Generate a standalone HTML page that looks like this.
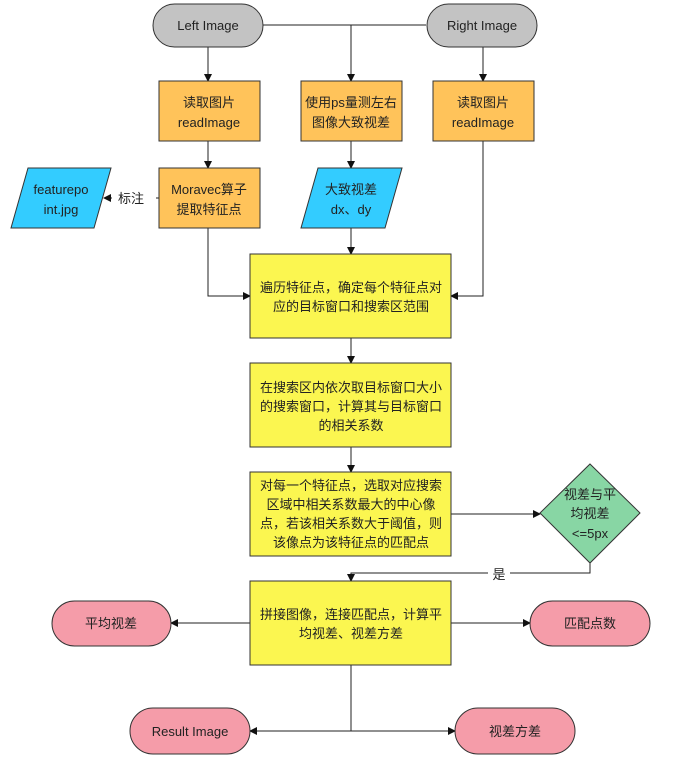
<!DOCTYPE html>
<html><head><meta charset="utf-8"><style>
html,body{margin:0;padding:0;background:#fff;}
svg{display:block;}
text{font-family:"Liberation Sans","Noto Sans CJK SC",sans-serif;font-size:13px;fill:#222;text-anchor:middle;}
</style></head><body>
<svg width="697" height="776" viewBox="0 0 697 776" xmlns="http://www.w3.org/2000/svg">
<defs><marker id="a" markerWidth="8" markerHeight="8" refX="7" refY="4" orient="auto" markerUnits="userSpaceOnUse"><path d="M0,0 L8,4 L0,8 z" fill="#111"/></marker></defs>
<g stroke="#222" stroke-width="1" fill="none">
<line x1="262" y1="25" x2="426" y2="25"/>
<line x1="208" y1="47" x2="208" y2="81" marker-end="url(#a)"/>
<line x1="351" y1="25" x2="351" y2="81" marker-end="url(#a)"/>
<line x1="483" y1="47" x2="483" y2="81" marker-end="url(#a)"/>
<line x1="208" y1="141" x2="208" y2="168" marker-end="url(#a)"/>
<line x1="351" y1="141" x2="351" y2="168" marker-end="url(#a)"/>
<line x1="159" y1="198" x2="104" y2="198" marker-end="url(#a)"/>
<polyline points="208,228 208,296 250,296" marker-end="url(#a)"/>
<line x1="351" y1="228" x2="351" y2="254" marker-end="url(#a)"/>
<polyline points="483,141 483,296 451,296" marker-end="url(#a)"/>
<line x1="351" y1="338" x2="351" y2="363" marker-end="url(#a)"/>
<line x1="351" y1="447" x2="351" y2="472" marker-end="url(#a)"/>
<line x1="451" y1="514" x2="540" y2="514" marker-end="url(#a)"/>
<polyline points="590,563 590,573 351,573 351,581" marker-end="url(#a)"/>
<line x1="250" y1="623" x2="171" y2="623" marker-end="url(#a)"/>
<line x1="451" y1="623" x2="530" y2="623" marker-end="url(#a)"/>
<line x1="351" y1="665" x2="351" y2="731"/>
<line x1="351" y1="731" x2="250" y2="731" marker-end="url(#a)"/>
<line x1="351" y1="731" x2="455" y2="731" marker-end="url(#a)"/>
</g>
<g stroke="#333" stroke-width="1">
<rect x="153" y="4" width="110" height="43" rx="21.5" fill="#c3c3c3"/>
<rect x="427" y="4" width="110" height="43" rx="21.5" fill="#c3c3c3"/>
<rect x="159" y="81" width="101" height="60" fill="#ffc35a"/>
<rect x="301" y="81" width="101" height="60" fill="#ffc35a"/>
<rect x="433" y="81" width="101" height="60" fill="#ffc35a"/>
<rect x="159" y="168" width="101" height="60" fill="#ffc35a"/>
<polygon points="28,168 111,168 94,228 11,228" fill="#33ccff"/>
<polygon points="318,168 402,168 385,228 301,228" fill="#33ccff"/>
<rect x="250" y="254" width="201" height="84" fill="#fbf650"/>
<rect x="250" y="363" width="201" height="84" fill="#fbf650"/>
<rect x="250" y="472" width="201" height="84" fill="#fbf650"/>
<polygon points="590,464 640,513 590,563 540,513" fill="#88d6a4"/>
<rect x="250" y="581" width="201" height="84" fill="#fbf650"/>
<rect x="52" y="601" width="119" height="45" rx="22.5" fill="#f59ca9"/>
<rect x="530" y="601" width="120" height="45" rx="22.5" fill="#f59ca9"/>
<rect x="130" y="708" width="120" height="46" rx="23" fill="#f59ca9"/>
<rect x="455" y="708" width="120" height="46" rx="23" fill="#f59ca9"/>
</g>
<rect x="112" y="190" width="44" height="16" fill="#fff"/>
<rect x="488" y="567" width="22" height="14" fill="#fff"/>
<text x="208" y="30">Left Image</text>
<text x="482" y="30">Right Image</text>
<text x="209" y="107">读取图片</text><text x="209" y="127">readImage</text>
<text x="351" y="107">使用ps量测左右</text><text x="351" y="127">图像大致视差</text>
<text x="483" y="107">读取图片</text><text x="483" y="127">readImage</text>
<text x="209" y="194">Moravec算子</text><text x="209" y="214">提取特征点</text>
<text x="61" y="194">featurepo</text><text x="61" y="214">int.jpg</text>
<text x="131" y="203">标注</text>
<text x="351" y="194">大致视差</text><text x="351" y="214">dx、dy</text>
<text x="351" y="292">遍历特征点，确定每个特征点对</text><text x="351" y="311">应的目标窗口和搜索区范围</text>
<text x="351" y="392">在搜索区内依次取目标窗口大小</text><text x="351" y="411">的搜索窗口，计算其与目标窗口</text><text x="351" y="430">的相关系数</text>
<text x="351" y="490">对每一个特征点，选取对应搜索</text><text x="351" y="509">区域中相关系数最大的中心像</text><text x="351" y="528">点，若该相关系数大于阈值，则</text><text x="351" y="547">该像点为该特征点的匹配点</text>
<text x="590" y="499">视差与平</text><text x="590" y="518">均视差</text><text x="590" y="538">&lt;=5px</text>
<text x="499" y="579">是</text>
<text x="351" y="619">拼接图像，连接匹配点，计算平</text><text x="351" y="638">均视差、视差方差</text>
<text x="111" y="628">平均视差</text>
<text x="590" y="628">匹配点数</text>
<text x="190" y="736">Result Image</text>
<text x="515" y="736">视差方差</text>
</svg>
</body></html>
